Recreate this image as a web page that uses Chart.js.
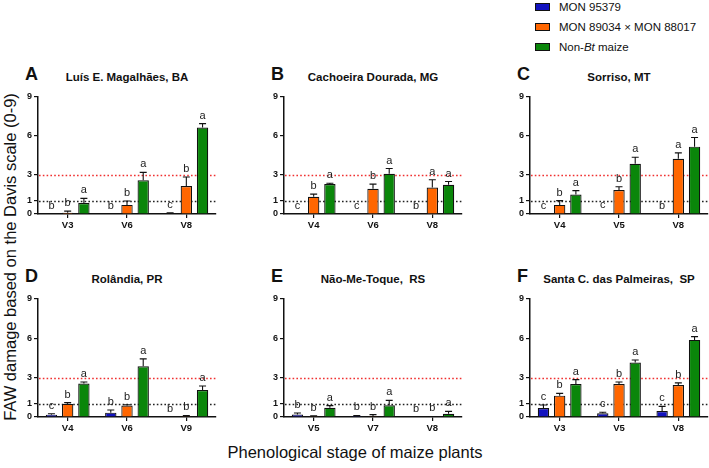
<!DOCTYPE html>
<html>
<head>
<meta charset="utf-8">
<script src="https://cdn.jsdelivr.net/npm/chart.js@4.4.0/dist/chart.umd.min.js"></script>
<style>
  body { margin: 0; width: 709px; height: 468px; background: #fff; position: relative; overflow: hidden;
         font-family: "Liberation Sans", Arial, sans-serif; color: #111; }
  canvas { position: absolute; }
  .txt { position: absolute; white-space: pre; }
  .letter { font-weight: bold; font-size: 18px; line-height: 18px; }
  .title { font-weight: bold; font-size: 11.5px; line-height: 12px; text-align: center; width: 178px; }
  .legend-row { position: absolute; left: 535px; font-size: 11.5px; line-height: 12px; white-space: nowrap; }
  .legend-row span.box { display: inline-block; width: 13px; height: 6px; border: 1px solid #111;
                         vertical-align: middle; margin-right: 9px; position: relative; top: -1px; }
  .axis-title { font-size: 16.5px; line-height: 18px; }
</style>
</head>
<body>

<div id="legend"></div>
<div class="txt axis-title" style="left:10px; top:257px; transform: translate(-50%, -50%) rotate(-90deg);">FAW damage based on the Davis scale (0-9)</div>
<div class="txt axis-title" style="left:355px; top:452px; transform: translate(-50%, -50%);">Phenological stage of maize plants</div>

<script>
// =====================================
// DATA
// =====================================

const seriesNames = ['MON 95379', 'MON 89034 × MON 88017', 'Non-<i>Bt</i> maize'];
const seriesColors = ['#1212bf', '#ff6600', '#0a860a'];

const panelLetters = ['A', 'B', 'C', 'D', 'E', 'F'];
const panelTitles = [
    'Luís E. Magalhães, BA',
    'Cachoeira Dourada, MG',
    'Sorriso, MT',
    'Rolândia, PR',
    'Não-Me-Toque,  RS',
    'Santa C. das Palmeiras,  SP'
];

const stages = [
    ['V3', 'V6', 'V8'],
    ['V4', 'V6', 'V8'],
    ['V4', 'V5', 'V8'],
    ['V4', 'V6', 'V9'],
    ['V5', 'V7', 'V8'],
    ['V3', 'V5', 'V8']
];

const yTicks = [0, 1, 3, 6, 9];
const thresholds = [1, 3];

// means (one row per panel)
const mon95379Mean = [
    [0, 0, 0.05], [0, 0, 0.02], [0, 0.05, 0],
    [0.18, 0.33, 0], [0.2, 0.08, 0], [0.69, 0.28, 0.46]
];
const mon89034Mean = [
    [0.1, 0.7, 2.15], [1.33, 1.94, 2.04], [0.7, 1.85, 4.25],
    [1.0, 0.87, 0.05], [0.05, 0.06, 0.02], [1.63, 2.52, 2.44]
];
const nonBtMean = [
    [0.85, 2.6, 6.65], [2.3, 3.1, 2.25], [1.5, 3.87, 5.18],
    [2.55, 3.87, 2.06], [0.71, 0.89, 0.25], [2.52, 4.15, 5.88]
];

// standard errors
const mon95379Err = [
    [0, 0, 0.05], [0, 0, 0], [0, 0, 0],
    [0.07, 0.2, 0], [0.1, 0.04, 0], [0.23, 0.08, 0.35]
];
const mon89034Err = [
    [0.12, 0.3, 0.7], [0.2, 0.36, 0.6], [0.33, 0.25, 0.45],
    [0.1, 0.07, 0.07], [0.05, 0.12, 0.02], [0.17, 0.15, 0.16]
];
const nonBtErr = [
    [0.35, 0.6, 0.3], [0.07, 0.4, 0.25], [0.3, 0.5, 0.7],
    [0.12, 0.56, 0.31], [0.16, 0.38, 0.18], [0.33, 0.2, 0.25]
];

// significance letters
const mon95379Letters = [
    ['b', 'b', 'c'], ['c', 'c', 'b'], ['c', 'c', 'b'],
    ['c', 'b', 'b'], ['b', 'b', 'b'], ['c', 'c', 'c']
];
const mon89034Letters = [
    ['b', 'b', 'b'], ['b', 'b', 'a'], ['b', 'b', 'a'],
    ['b', 'b', 'b'], ['b', 'b', 'b'], ['b', 'b', 'b']
];
const nonBtLetters = [
    ['a', 'a', 'a'], ['a', 'a', 'a'], ['a', 'a', 'a'],
    ['a', 'a', 'a'], ['a', 'a', 'a'], ['a', 'a', 'a']
];


// =====================================
// LAYOUT
// =====================================

const colLeft = [38, 284, 530];
const rowTop = [97, 299];
const rowHeight = [117, 118];
const plotWidth = 178;
const padTop = 8;
const yAxisWidth = 32;
const xAxisHeight = 24;


// =====================================
// LEGEND
// =====================================

const legendTop = [1, 21, 41];
const legend = document.getElementById('legend');

seriesNames.forEach((name, i) => {
    const row = document.createElement('div');
    row.className = 'legend-row';
    row.style.top = legendTop[i] + 'px';
    row.innerHTML = '<span class="box" style="background:' + seriesColors[i] + '"></span>' + name;
    legend.appendChild(row);
});


// =====================================
// PLUGINS
// =====================================

const thresholdLines = {
    id: 'thresholdLines',
    beforeDatasetsDraw(chart) {
        const { ctx, chartArea, scales: { y } } = chart;
        const colors = ['#222', '#f03030'];

        ctx.save();
        ctx.lineWidth = 1.4;
        ctx.setLineDash([1.6, 2.2]);

        thresholds.forEach((v, i) => {
            const py = Math.round(y.getPixelForValue(v)) + 0.5;
            ctx.strokeStyle = colors[i];
            ctx.beginPath();
            ctx.moveTo(chartArea.left + 1, py);
            ctx.lineTo(chartArea.right, py);
            ctx.stroke();
        });

        ctx.restore();
    }
};

const errorBarsAndLetters = {
    id: 'errorBarsAndLetters',
    afterDatasetsDraw(chart) {
        const { ctx, scales: { y } } = chart;

        ctx.save();

        chart.data.datasets.forEach((ds, di) => {
            const meta = chart.getDatasetMeta(di);

            meta.data.forEach((bar, i) => {
                const mean = ds.data[i];
                const err = ds.errors[i];
                const top = y.getPixelForValue(mean + err);
                const base = y.getPixelForValue(mean);

                // error bar (upper only)
                if (err > 0) {
                    ctx.strokeStyle = '#111';
                    ctx.lineWidth = 1.1;
                    ctx.beginPath();
                    ctx.moveTo(bar.x, base);
                    ctx.lineTo(bar.x, top);
                    ctx.moveTo(bar.x - 3.5, top);
                    ctx.lineTo(bar.x + 3.5, top);
                    ctx.stroke();
                }

                // letter
                ctx.fillStyle = '#222';
                ctx.font = '11px "Liberation Sans", Arial, sans-serif';
                ctx.textAlign = 'center';
                ctx.textBaseline = 'alphabetic';
                ctx.fillText(ds.letters[i], bar.x, top - 5);
            });
        });

        ctx.restore();
    }
};


// =====================================
// PANELS
// =====================================

const allMeans = [mon95379Mean, mon89034Mean, nonBtMean];
const allErrs = [mon95379Err, mon89034Err, nonBtErr];
const allLetters = [mon95379Letters, mon89034Letters, nonBtLetters];

panelTitles.forEach((title, p) => {

    const col = p % 3;
    const row = Math.floor(p / 3);

    const left = colLeft[col] - yAxisWidth;
    const top = rowTop[row] - padTop;
    const width = Math.min(yAxisWidth + plotWidth + 2, 709 - left);
    const height = padTop + rowHeight[row] + xAxisHeight;

    const canvas = document.createElement('canvas');
    canvas.width = width;
    canvas.height = height;
    canvas.style.left = left + 'px';
    canvas.style.top = top + 'px';
    document.body.appendChild(canvas);

    // panel letter
    const letter = document.createElement('div');
    letter.className = 'txt letter';
    letter.style.left = (colLeft[col] - 13) + 'px';
    letter.style.top = (rowTop[row] - 32) + 'px';
    letter.textContent = panelLetters[p];
    document.body.appendChild(letter);

    // panel title
    const ttl = document.createElement('div');
    ttl.className = 'txt title';
    ttl.style.left = colLeft[col] + 'px';
    ttl.style.top = (rowTop[row] - 26) + 'px';
    ttl.textContent = title;
    document.body.appendChild(ttl);

    new Chart(canvas, {

        type: 'bar',

        data: {
            labels: stages[p],
            datasets: seriesNames.map((name, s) => ({
                label: name,
                data: allMeans[s][p],
                errors: allErrs[s][p],
                letters: allLetters[s][p],
                backgroundColor: seriesColors[s],
                borderColor: '#111',
                borderWidth: 1.2,
                categoryPercentage: 0.82,
                barPercentage: 0.7
            }))
        },

        options: {
            responsive: false,
            animation: false,
            layout: {
                padding: { top: padTop, right: width - yAxisWidth - plotWidth, left: 0, bottom: 0 }
            },
            plugins: {
                legend: { display: false },
                tooltip: { enabled: false },
                title: { display: false }
            },
            scales: {
                x: {
                    afterFit: s => { s.height = xAxisHeight; },
                    grid: {
                        offset: false,
                        drawOnChartArea: false,
                        drawTicks: true,
                        tickLength: 4,
                        color: '#111',
                        lineWidth: 1.2
                    },
                    border: { display: true, color: '#111', width: 1.5 },
                    ticks: {
                        color: '#111',
                        padding: 2,
                        maxRotation: 0,
                        font: { family: '"Liberation Sans", Arial, sans-serif', size: 9.5, weight: 'bold' }
                    }
                },
                y: {
                    min: 0,
                    max: 9,
                    afterFit: s => { s.width = yAxisWidth; },
                    afterBuildTicks: s => { s.ticks = yTicks.map(v => ({ value: v })); },
                    grid: {
                        drawOnChartArea: false,
                        drawTicks: true,
                        tickLength: 4,
                        color: '#111',
                        lineWidth: 1.2
                    },
                    border: { display: true, color: '#111', width: 1.5 },
                    ticks: {
                        color: '#111',
                        padding: 2,
                        font: { family: '"Liberation Sans", Arial, sans-serif', size: 9, weight: 'bold' }
                    }
                }
            }
        },

        plugins: [thresholdLines, errorBarsAndLetters]
    });
});
</script>
</body>
</html>
